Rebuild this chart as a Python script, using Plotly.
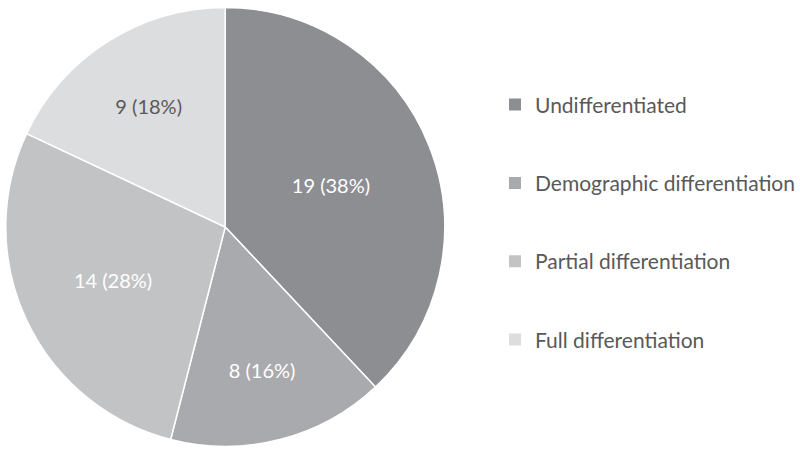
import plotly.graph_objects as go

categories = ["Undifferentiated", "Demographic differentiation", "Partial differentiation", "Full differentiation"]
values = [19, 8, 14, 9]
colors = ["#8d8e92", "#a9aaad", "#c2c3c5", "#dcdddf"]
text_colors = ["#ffffff", "#ffffff", "#ffffff", "#595959"]

fig = go.Figure()
fig.add_trace(go.Pie(
    labels=categories, values=values, sort=False, direction="clockwise", rotation=0,
    marker=dict(colors=colors, line=dict(color="white", width=1.5)),
    texttemplate="%{value} (%{percent:.0%})", textposition="inside",
    insidetextorientation="horizontal",
    insidetextfont=dict(color=text_colors, size=20, family="Lato"),
    domain=dict(x=[6/800, 462/800], y=[0, 1]), showlegend=False, hoverinfo="label+value+percent",
))
for i, (c, col) in enumerate(zip(categories, colors)):
    fig.add_trace(go.Scatter(
        x=[None], y=[None], mode="markers", name=c, legendgroup=f"g{i}",
        marker=dict(symbol="square", size=9, color=col), showlegend=True,
    ))

fig.update_layout(
    width=800, height=454, margin=dict(l=0, r=0, t=0, b=0),
    paper_bgcolor="white", plot_bgcolor="white",
    xaxis=dict(visible=False), yaxis=dict(visible=False),
    font=dict(family="Lato", color="#595959"),
    legend=dict(x=0.643, y=0.51, xanchor="left", yanchor="middle",
                font=dict(size=21, color="#595959"), tracegroupgap=48,
                itemsizing="constant", bgcolor="rgba(0,0,0,0)"),
)
fig.write_html("out.html", config={"displayModeBar": False},
               post_script="document.body.style.margin='0';")
